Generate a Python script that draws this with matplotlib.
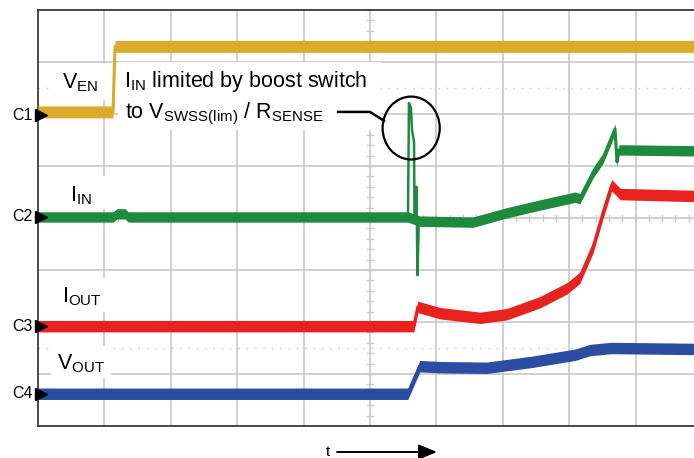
import numpy as np
import matplotlib
matplotlib.use("Agg")
import matplotlib.pyplot as plt
from matplotlib.patches import Ellipse, Rectangle

plt.rcParams['font.family'] = ['Liberation Sans', 'DejaVu Sans']
plt.rcParams['mathtext.fontset'] = 'custom'
plt.rcParams['mathtext.rm'] = 'Liberation Sans'
plt.rcParams['mathtext.it'] = 'Liberation Sans:italic'
plt.rcParams['mathtext.bf'] = 'Liberation Sans:bold'

# ---- data (time and level in scope divisions) ----
yellow_t = [0, 1.13, 1.16, 10]
yellow_v = [6.04, 6.04, 7.30, 7.30]

green_t = [0, 1.13, 1.19, 1.31, 1.36, 5.57, 5.66, 5.75, 6.55, 7.06, 7.56, 8.09,
           8.16, 8.36, 8.51, 8.69, 8.72, 8.75, 10]
green_v = [4.02, 4.02, 4.08, 4.08, 4.02, 4.02, 3.98, 3.94, 3.92, 4.10, 4.25, 4.40,
           4.37, 4.87, 5.15, 5.71, 5.08, 5.31, 5.29]

spike_t = [5.572, 5.587, 5.617, 5.633, 5.663, 5.67, 5.693, 5.70, 5.715, 5.735]
spike_v = [4.02, 6.21, 6.12, 5.69, 5.46, 4.06, 3.92, 4.60, 2.90, 3.95]

red_t = [0, 5.66, 5.72, 6.05, 6.66, 7.06, 7.56, 7.97, 8.16, 8.36, 8.51, 8.64, 8.77, 10]
red_v = [1.92, 1.92, 2.29, 2.17, 2.08, 2.15, 2.38, 2.65, 2.85, 3.44, 4.10, 4.63, 4.46, 4.42]

blue_t = [0, 5.57, 5.75, 6.08, 6.76, 7.42, 8.09, 8.31, 8.63, 10]
blue_v = [0.62, 0.62, 1.15, 1.13, 1.12, 1.23, 1.37, 1.46, 1.50, 1.48]

channel_names = ['C1', 'C2', 'C3', 'C4']
channel_refs = [5.98, 4.02, 1.92, 0.62]

YELLOW = '#DCAB2B'
GREEN = '#1E8A3E'
RED = '#E8221F'
BLUE = '#2B4DA2'
GRID = '#C8C8C8'

fig = plt.figure(figsize=(6.94, 4.58), dpi=100)
ax = fig.add_axes([38/694, 32/458, 664/694, 416/458])
ax.set_xlim(0, 10)
ax.set_ylim(0, 8)
ax.set_xticks([])
ax.set_yticks([])
for s in ['left', 'top', 'bottom', 'right']:
    ax.spines[s].set_color('#3a3a3a')
    ax.spines[s].set_linewidth(1.3)

# grid
for k in range(1, 10):
    ax.axvline(k, color=GRID, lw=1.2, zorder=0)
for k in range(1, 8):
    ax.axhline(k, color=GRID, lw=1.2, zorder=0)
for yv in [1.5, 6.5]:
    ax.axhline(yv, color='#C4C4C4', lw=1.0, ls=(0, (1, 5)), zorder=0)
# center tick marks
for tt in np.arange(0, 10.01, 0.2):
    ax.plot([tt, tt], [4 - 0.06, 4 + 0.06], color=GRID, lw=1.0, zorder=0)
for vv in np.arange(0, 8.01, 0.2):
    ax.plot([5 - 0.045, 5 + 0.045], [vv, vv], color=GRID, lw=1.0, zorder=0)

# white label boxes
ax.add_patch(Rectangle((1.20, 5.69), 3.95, 1.31, facecolor='white', edgecolor='none', zorder=1))
ax.add_patch(Rectangle((0.20, 6.27), 0.88, 0.71, facecolor='white', edgecolor='none', zorder=1))
ax.add_patch(Rectangle((0.35, 4.18), 0.75, 0.62, facecolor='white', edgecolor='none', zorder=1))
ax.add_patch(Rectangle((0.25, 2.20), 0.85, 0.65, facecolor='white', edgecolor='none', zorder=1))
ax.add_patch(Rectangle((0.20, 0.92), 0.90, 0.62, facecolor='white', edgecolor='none', zorder=1))

def trace(t, v, color, h, z):
    t = np.asarray(t, float)
    v = np.asarray(v, float)
    ax.fill_between(t, v - h, v + h, color=color, lw=0, zorder=z)
    ax.plot(t, v, color=color, lw=2.2, zorder=z, solid_joinstyle='round')

trace(yellow_t, yellow_v, YELLOW, 0.115, 3)
trace(green_t, green_v, GREEN, 0.10, 4)
ax.plot(spike_t, spike_v, color=GREEN, lw=1.8, zorder=4)
trace(red_t, red_v, RED, 0.11, 5)
trace(blue_t, blue_v, BLUE, 0.11, 6)

# channel markers
for name, ref in zip(channel_names, channel_refs):
    ax.plot([0.045], [ref], marker='>', ms=9, color='black', clip_on=False, zorder=10)
    ax.text(-0.08, ref, name, ha='right', va='center', fontsize=11.5, clip_on=False)

# trace labels
fs = 15.5
ax.text(0.36, 6.50, r'$\mathrm{V_{EN}}$', fontsize=fs, ha='left', va='baseline', zorder=7)
ax.text(0.48, 4.31, r'$\mathrm{I_{IN}}$', fontsize=fs, ha='left', va='baseline', zorder=7)
ax.text(0.36, 2.37, r'$\mathrm{I_{OUT}}$', fontsize=fs, ha='left', va='baseline', zorder=7)
ax.text(0.29, 1.08, r'$\mathrm{V_{OUT}}$', fontsize=fs, ha='left', va='baseline', zorder=7)

ax.text(1.30, 6.52, r'$\mathrm{I_{IN}}$ limited by boost switch', fontsize=fs,
        ha='left', va='baseline', zorder=7)
ax.text(1.31, 5.92, r'to $\mathrm{V_{SWSS(lim)}}$ / $\mathrm{R_{SENSE}}$', fontsize=fs,
        ha='left', va='baseline', zorder=7)

# leader and circle
ax.plot([4.52, 5.0, 5.21], [6.04, 6.04, 5.87], color='black', lw=1.8, zorder=8)
ax.add_patch(Ellipse((5.62, 5.73), 0.86, 1.21, facecolor='none', edgecolor='black',
                     lw=1.6, zorder=8))

# time arrow
fig.text(328/694, 6/458, 't', ha='center', va='center', fontsize=11)
ax.annotate('', xy=(437, 6), xytext=(337, 6), xycoords='figure pixels',
            textcoords='figure pixels',
            arrowprops=dict(arrowstyle='-|>,head_length=0.8,head_width=0.33',
                            mutation_scale=14, lw=1.4, color='black',
                            shrinkA=0, shrinkB=0))

fig.savefig('out.png', dpi=100)
